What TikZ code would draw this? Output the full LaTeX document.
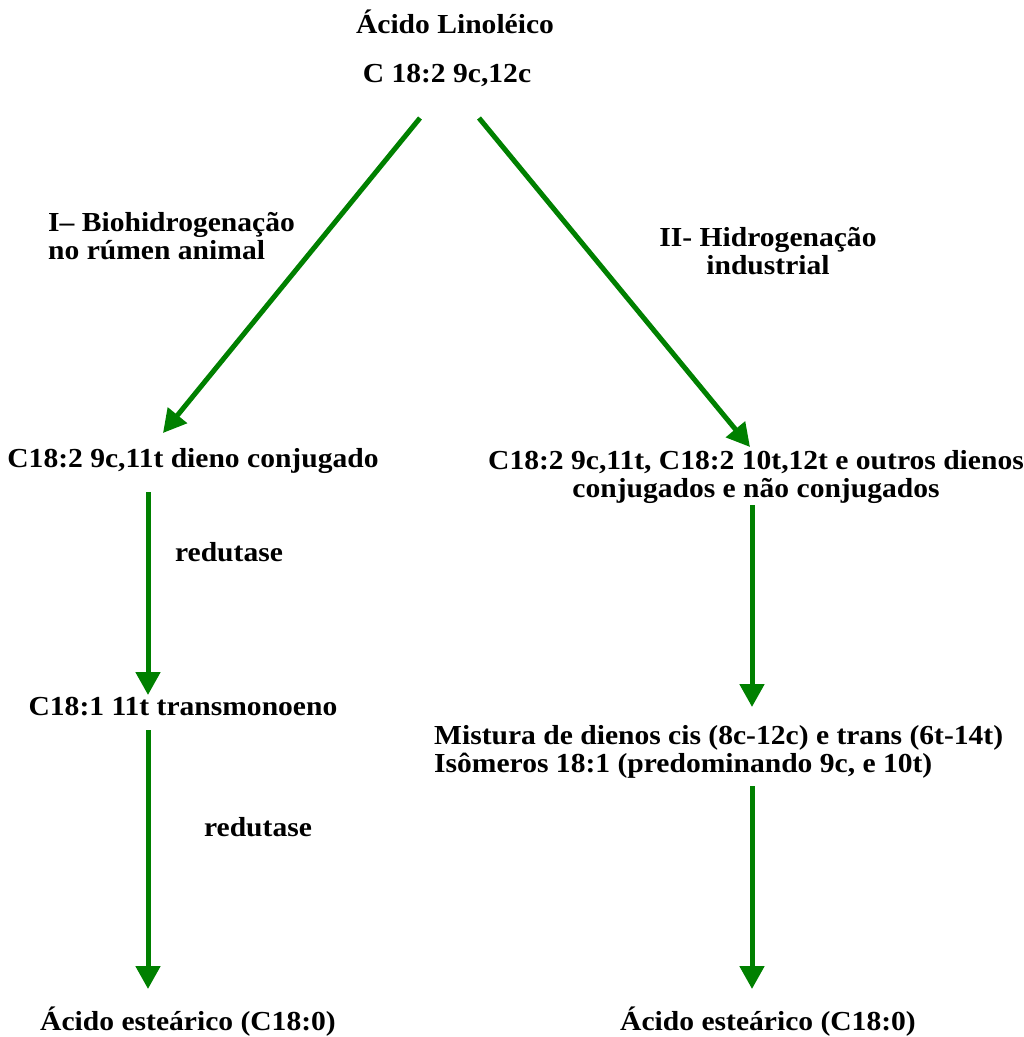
\documentclass[tikz,border=0pt]{standalone}
\usepackage{fontspec}
\setmainfont{Liberation Serif}[FakeStretch=1.075]
\usetikzlibrary{positioning,arrows.meta}
\definecolor{flowgreen}{RGB}{0,128,0}
\tikzset{
  lbl/.style={font=\bfseries\fontsize{27.5}{27.5}\selectfont, inner sep=0pt},
  flow/.style={draw=flowgreen, line width=5pt, -{Triangle[width=24pt,length=23pt]}}
}
\begin{document}
\begin{tikzpicture}[x=1pt,y=1pt]
\useasboundingbox (0,0) rectangle (1024,-1037);

% top
\node[lbl, anchor=base] (lin) at (455,-33) {Ácido Linoléico};
\node[lbl, anchor=base] (lin2) at (447,-82) {C 18:2 9c,12c};

% route I
\node[lbl, align=left, anchor=west] (bio) at (48,-236) {I– Biohidrogenação\\no rúmen animal};
\node[lbl, anchor=base] (dienoL) at (193,-467) {C18:2 9c,11t dieno conjugado};
\node[lbl, anchor=base] (red1) at (229,-561) {redutase};
\node[lbl, anchor=base] (monoL) at (183,-715) {C18:1 11t transmonoeno};
\node[lbl, anchor=base] (red2) at (258,-836) {redutase};
\node[lbl, anchor=base] (estL) at (188,-1030) {Ácido esteárico (C18:0)};

% route II
\node[lbl, align=center] (ind) at (768,-251) {II- Hidrogenação\\industrial};
\node[lbl, align=center] (dienoR) at (756,-477) {C18:2 9c,11t, C18:2 10t,12t e outros dienos\\conjugados e não conjugados};
\node[lbl, align=left, anchor=west] (mist) at (434,-752) {Mistura de dienos cis (8c-12c) e trans (6t-14t)\\Isômeros 18:1 (predominando 9c, e 10t)};
\node[lbl, anchor=base] (estR) at (768,-1030) {Ácido esteárico (C18:0)};

% arrow ends
\coordinate (l0) at (420,-118);
\coordinate (l1) at (163,-433);
\coordinate (r0) at (479,-118);
\coordinate (r1) at (750,-447);
\coordinate (l2) at (148,-492);
\coordinate (l3) at (148,-695);
\coordinate (l4) at (148,-730);
\coordinate (l5) at (148,-989);
\coordinate (r2) at (752,-505);
\coordinate (r3) at (752,-707);
\coordinate (r4) at (752,-786);
\coordinate (r5) at (752,-989);

\draw[flow] (l0) -- (l1);
\draw[flow] (r0) -- (r1);
\draw[flow] (l2) -- (l3);
\draw[flow] (l4) -- (l5);
\draw[flow] (r2) -- (r3);
\draw[flow] (r4) -- (r5);
\end{tikzpicture}
\end{document}
